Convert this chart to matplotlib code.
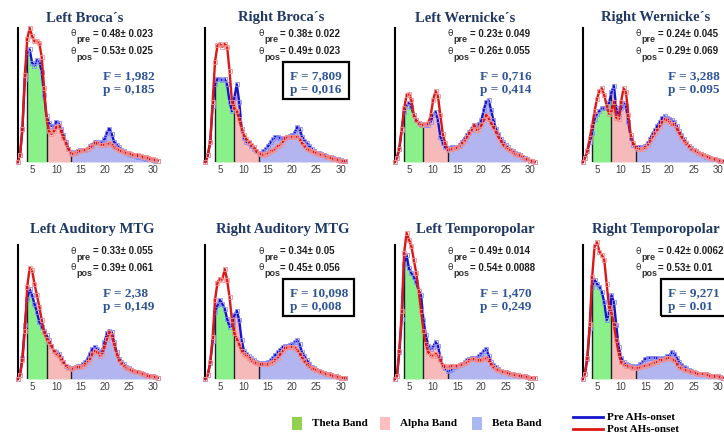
import matplotlib
matplotlib.use('Agg')
import matplotlib.pyplot as plt
from matplotlib.patches import Rectangle
from matplotlib.lines import Line2D

# frequency bins (Hz)
freq = [2, 2.5, 3, 3.5, 4, 4.5, 5, 5.5, 6, 6.5,
        7, 7.5, 8, 8.5, 9, 9.5, 10, 10.5, 11, 11.5,
        12, 12.5, 13, 13.5, 14, 14.5, 15, 15.5, 16, 16.5,
        17, 17.5, 18, 18.5, 19, 19.5, 20, 20.5, 21, 21.5,
        22, 22.5, 23, 23.5, 24, 24.5, 25, 25.5, 26, 26.5,
        27, 27.5, 28, 28.5, 29, 29.5, 30, 30.5, 31]

titles = ['Left Broca´s', 'Right Broca´s', 'Left Wernicke´s', 'Right Wernicke´s',
          'Left Auditory MTG', 'Right Auditory MTG', 'Left Temporopolar', 'Right Temporopolar']
theta_pre = ['0.48± 0.023', '0.38± 0.022', '0.23± 0.049', '0.24± 0.045',
             '0.33± 0.055', '0.34± 0.05', '0.49± 0.014', '0.42± 0.0062']
theta_pos = ['0.53± 0.025', '0.49± 0.023', '0.26± 0.055', '0.29± 0.069',
             '0.39± 0.061', '0.45± 0.056', '0.54± 0.0088', '0.53± 0.01']
f_vals = ['1,982', '7,809', '0,716', '3,288', '2,38', '10,098', '1,470', '9,271']
p_vals = ['0,185', '0,016', '0,414', '0.095', '0,149', '0,008', '0,249', '0.01']
significant = [False, True, False, False, False, True, False, True]

# relative power spectra (pre = blue, post = red)
pre = [
    [0, 5, 25, 62, 82, 84, 74, 72, 76, 75,
     67, 50, 34, 29, 27, 27, 30, 29, 25, 20,
     15, 10, 7.5, 7, 7.5, 8.5, 9, 9, 9, 10,
     12, 13, 15, 15, 14, 15, 17, 22, 25, 21,
     15, 13, 11, 9, 8, 7, 6, 5.5, 5, 4.5,
     4, 3.5, 3, 2.5, 2, 2, 1.5, 1, 1],
    [0, 5, 15, 42, 58, 62, 62, 61, 62, 58,
     45, 38, 48, 58, 45, 25, 18, 15, 14, 12,
     10, 8, 7, 7, 8, 10, 12, 15, 17, 19,
     19, 18, 17.5, 18, 19, 19.5, 20, 22, 26, 25,
     19, 16, 14, 12, 10, 8, 7, 6.5, 6, 5,
     4.5, 4, 3.5, 3, 2.5, 2, 1.5, 1, 0.5],
    [0, 3, 10, 24, 37, 42, 44, 41, 35, 31,
     29, 28, 27.5, 27.5, 27.5, 30, 35, 37.5, 31, 19,
     14, 11, 10, 10.5, 11, 11, 11, 13, 15, 17.5,
     20, 22.5, 25, 27.5, 26, 28, 31, 39, 45, 46,
     39, 31, 25, 21, 17.5, 15, 12.5, 11, 9, 8,
     7, 6, 5, 4, 3, 2, 1, 0.5, 0],
    [0, 3, 8, 15, 22, 32, 36, 38, 40, 40,
     41, 44, 52, 57, 40, 34, 40, 44, 42, 30,
     18, 13, 11, 11, 11, 11, 12, 14, 17, 21,
     24, 27, 30, 33, 34, 33, 32, 31, 30, 27,
     23, 20, 17, 14, 12, 10.5, 9, 8, 7, 6,
     5, 4, 3.5, 3, 2.5, 2, 1.5, 1, 0.5],
    [0, 3, 16, 40, 60, 67, 62.5, 56, 50, 42.5,
     39, 36, 32.5, 29, 25, 21, 20, 19, 16, 12.5,
     10, 9, 8, 8.5, 9, 9.5, 10, 11, 12.5, 15,
     19, 22.5, 24, 22.5, 20, 21, 27.5, 34, 36, 35,
     27.5, 20, 15, 13, 11, 9, 8, 7, 6, 5.5,
     5, 4.5, 4, 3, 2.5, 2, 2, 1.5, 1],
    [0, 3, 12, 28, 50, 55, 59, 56, 52.5, 45,
     39, 40, 47.5, 51, 44, 29, 21, 19, 17, 15.5,
     14, 13, 12, 12, 12, 12, 12.5, 14, 16, 18,
     20, 22, 24, 24.5, 25, 25.5, 26, 27.5, 29, 26,
     20, 17, 14, 11.5, 9, 8, 7, 6, 5, 4.5,
     4, 3.5, 3, 2.5, 2, 1.5, 1, 1, 0.5],
    [0, 2, 20, 45, 86, 92.5, 82.5, 79, 76, 72.5,
     66, 62.5, 44, 32.5, 25, 22.5, 24, 27.5, 25, 16,
     10, 8, 6, 6.5, 7.5, 9, 10, 10.5, 11, 12.5,
     14, 15, 16, 16, 16, 17.5, 19, 21, 22.5, 17.5,
     12.5, 10.5, 9, 7.5, 6, 5.5, 5, 4.5, 4, 3.5,
     3, 3, 2.5, 2, 2, 1.5, 1, 1, 0.5],
    [0, 4, 15, 38, 69, 74, 71, 69, 65, 57.5,
     44, 49, 62.5, 57.5, 40, 24, 16, 12.5, 11, 10.5,
     10, 9.5, 9, 10, 11, 13, 15, 15.5, 16, 16,
     16, 15.5, 15, 15.5, 16, 17, 17.5, 20, 19, 16,
     12.5, 10.5, 9, 8, 7, 6, 5, 4.5, 4, 4,
     4, 3.5, 3, 2.5, 2, 2, 2, 1.5, 1],
]
post = [
    [0, 5, 25, 65, 92, 100, 94, 90, 90, 89,
     78, 55, 32, 23, 21, 23, 26, 27, 23, 18,
     14, 10, 7, 6, 7, 8, 8.5, 9, 9, 10,
     11, 12, 14, 14, 13, 13, 13, 13.5, 14, 13,
     11, 10, 9, 8, 7.5, 7, 6.5, 6, 5.5, 5,
     5, 4.5, 4, 3.5, 3, 2.5, 2, 1.5, 1],
    [0, 5, 15, 45, 75, 87, 88, 86, 88, 86,
     68, 45, 40, 38, 32, 25, 20, 17, 15, 13,
     11, 8.5, 7, 6, 5.5, 6, 7, 8, 9, 10,
     12, 13, 15, 18, 19, 19, 19, 19, 19, 17,
     14, 12, 10, 9, 8, 7.5, 7, 6, 5.5, 5,
     4, 3.5, 3, 2.5, 2, 1.5, 1, 1, 0.5],
    [0, 3, 10, 25, 40, 50, 51, 46, 35, 31,
     29, 27.5, 28, 28.5, 29, 35, 46, 53, 49, 35,
     21, 14, 9, 9.5, 10, 10.5, 11, 12, 14, 16,
     19, 21.5, 24, 27.5, 24, 25, 27.5, 31, 35, 32.5,
     29, 26, 22.5, 19, 16, 13, 11, 10, 9, 7.5,
     6, 5.5, 5, 4, 2.5, 2, 1, 0.5, 0],
    [0, 3, 8, 18, 27, 38, 47, 53, 55, 50,
     42, 36, 38, 45, 33, 32, 45, 55, 52, 35,
     20, 14, 11, 10, 10, 10, 11, 13, 16, 19,
     22, 24, 27, 30, 32, 31, 30, 28, 28, 25,
     22, 19, 16, 14, 12, 10, 9, 8, 7, 6,
     5, 4.5, 4, 3, 2.5, 2, 1.5, 1, 0.5],
    [0, 3, 14, 36, 69, 83, 81, 71, 62.5, 54,
     44, 35, 30, 27.5, 25, 21, 19, 17.5, 15, 12.5,
     10, 8.5, 7.5, 8, 9, 9, 9, 10, 11, 13,
     15, 19, 21, 20, 17.5, 19, 24, 30, 35, 32.5,
     26, 19, 14, 12, 10, 8.5, 7.5, 6.5, 6, 5.5,
     5, 4.5, 4, 3, 2.5, 2, 2, 1.5, 1],
    [0, 3, 12.5, 31, 59, 72, 75, 74, 82, 74,
     61, 44, 34, 30, 26, 21, 19, 17.5, 16, 14,
     12.5, 12, 11, 11, 11, 11, 11, 12, 13, 14.5,
     16, 18.5, 21, 23, 24, 24, 24, 23.5, 22, 19,
     16, 13.5, 11, 9.5, 8, 7.5, 7, 6, 5, 4.5,
     4, 3.5, 3, 2.5, 2, 1.5, 1, 1, 0.5],
    [0, 2, 21, 51, 94, 109, 104, 99, 89, 79,
     66, 51, 36, 26, 20, 18, 17.5, 19, 17.5, 14,
     10, 9.5, 9, 9.5, 10, 10, 10, 10.5, 11, 12,
     12.5, 14, 15, 15, 14, 14, 14, 15, 16, 14,
     11, 9, 7.5, 6.5, 6, 5.5, 5, 4.5, 4, 3.5,
     3, 3, 2.5, 2, 2, 1.5, 1, 1, 0.5],
    [0, 4, 16, 41, 76, 99, 102, 95, 92.5, 89,
     71, 54, 49, 41, 29, 19, 12.5, 11, 10, 9.5,
     9, 8.5, 8, 8.5, 9, 9.5, 10, 10.5, 11, 12,
     12.5, 13, 14, 14.5, 15, 15.5, 16, 15, 14, 11.5,
     9, 8, 7, 6.5, 6, 5.5, 5, 4.5, 4, 4,
     4, 3.5, 3, 2.5, 2, 2, 2, 1.5, 1],
]

bands = [('Theta Band', 4, 8, '#8af08a'), ('Alpha Band', 8, 13, '#f6baba'), ('Beta Band', 13, 30.5, '#b3b5f0')]

W, H = 724, 433
def fx(px):
    return px / W
def fy(py):
    return 1 - py / H

fig = plt.figure(figsize=(W / 100, H / 100), dpi=100)

lefts = [17.6, 205.4, 394.5, 582.5]
tops = [28, 245]
title_x = [85, 281, 465, 656, 92, 283, 475, 656]
title_y = [18, 18, 18, 18, 230, 229, 229, 229]
box_w = [0, 66, 0, 0, 0, 71, 0, 70]
navy = '#1f3864'
fblue = '#2e5597'

for i in range(8):
    sx = lefts[i % 4]
    top = tops[i // 4]
    ax = fig.add_axes([fx(sx), fy(top + 134), 140 / W, 134 / H])
    ax.set_xlim(2, 31)
    ax.set_ylim(0, 100)

    # bands filled under the pre curve
    for name, lo, hi, col in bands:
        xs = [f for f in freq if lo <= f <= hi]
        ys = [v for f, v in zip(freq, pre[i]) if lo <= f <= hi]
        ax.fill_between(xs, ys, 0, color=col, lw=0)
    for edge in [4, 8, 13]:
        ax.vlines(edge, 0, pre[i][freq.index(edge)], color='#202020', lw=1)

    ax.plot(freq, pre[i], color='#1515d0', lw=1.7, marker='s', ms=2.6,
            mfc='none', mec='#8c8cf2', mew=0.6, clip_on=False, zorder=3)
    ax.plot(freq, post[i], color='#dd1616', lw=1.7, marker='s', ms=2.6,
            mfc='none', mec='#f29090', mew=0.6, clip_on=False, zorder=4)

    for s in ['top', 'right', 'bottom']:
        ax.spines[s].set_visible(False)
    ax.spines['left'].set_color('black')
    ax.spines['left'].set_linewidth(1.5)
    ax.set_yticks([])
    ax.set_xticks([5, 10, 15, 20, 25, 30])
    ax.tick_params(axis='x', length=0, pad=2, labelsize=7, labelcolor='#404040')
    for lab in ax.get_xticklabels():
        lab.set_family('Liberation Sans')

    fig.text(fx(title_x[i]), fy(title_y[i]), titles[i], ha='center', va='center',
             family='Liberation Serif', weight='bold', fontsize=10.5, color=navy)

    # theta ratio text
    for k, (sub, val) in enumerate([('pre', theta_pre[i]), ('pos', theta_pos[i])]):
        y0 = top + 6 + 17 * k
        fig.text(fx(sx + 53), fy(y0), 'θ', ha='left', va='center',
                 family='DejaVu Sans', fontsize=6.5, color='#303030')
        fig.text(fx(sx + 59), fy(y0 + 6), sub, ha='left', va='center',
                 family='Liberation Sans', fontsize=6.5, weight='bold', color='#303030')
        fig.text(fx(sx + 75), fy(y0), '= ' + val, ha='left', va='center',
                 family='Liberation Sans', fontsize=7, weight='bold', color='#202020')

    fig.text(fx(sx + 85), fy(top + 48), 'F = ' + f_vals[i], ha='left', va='center',
             family='Liberation Serif', weight='bold', fontsize=9.5, color=fblue)
    fig.text(fx(sx + 85), fy(top + 62), 'p = ' + p_vals[i], ha='left', va='center',
             family='Liberation Serif', weight='bold', fontsize=9.5, color=fblue)
    if significant[i]:
        fig.patches.append(Rectangle((fx(sx + 78), fy(top + 71)), box_w[i] / W, 37 / H,
                                     transform=fig.transFigure, fill=False,
                                     edgecolor='black', lw=1.6))

# legend at the bottom
for (name, lo, hi, col), px in zip(bands, [292, 380, 472]):
    legcol = {'Theta Band': '#92d050', 'Alpha Band': '#ffbfbf', 'Beta Band': '#a9b8f0'}[name]
    fig.patches.append(Rectangle((fx(px), fy(430)), 10 / W, 13 / H,
                                 transform=fig.transFigure, color=legcol, lw=0))
    fig.text(fx(px + 20), fy(423), name, ha='left', va='center',
             family='Liberation Serif', weight='bold', fontsize=8, color='black')

for lab, col, py in [('Pre AHs-onset', '#1515d0', 417), ('Post AHs-onset', '#e01515', 429)]:
    fig.lines.append(Line2D([fx(573), fx(603)], [fy(py), fy(py)],
                            transform=fig.transFigure, color=col, lw=2))
    fig.text(fx(607), fy(py), lab, ha='left', va='center',
             family='Liberation Serif', weight='bold', fontsize=8, color='black')

fig.savefig('out.png', dpi=100)
